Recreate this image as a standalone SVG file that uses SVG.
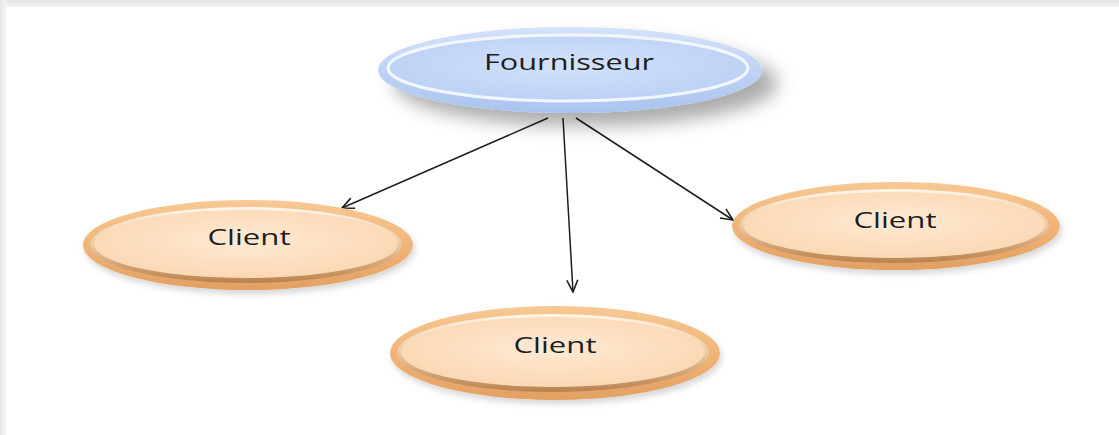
<svg xmlns="http://www.w3.org/2000/svg" width="1119" height="435" viewBox="0 0 1119 435">
<style>
.lbl{font-family:"Open Sans","Liberation Sans",sans-serif;font-size:22px;fill:#1e1e1e;text-anchor:middle}
.conn{stroke:#1e1e1e;stroke-width:1.5;fill:none}
</style>
<defs>
<marker id="arr" viewBox="0 0 14 14" refX="13" refY="7" markerWidth="14" markerHeight="14" markerUnits="userSpaceOnUse" orient="auto">
<path d="M1,1.5 L13,7 L1,12.5" fill="none" stroke="#1e1e1e" stroke-width="1.6"/>
</marker>
<linearGradient id="topEdge" x1="0" y1="0" x2="0" y2="1"><stop offset="0" stop-color="#e6e6e6"/><stop offset="1" stop-color="#f2f2f2"/></linearGradient>
<linearGradient id="leftEdge" x1="0" y1="0" x2="1" y2="0"><stop offset="0" stop-color="#e6e6e6"/><stop offset="1" stop-color="#f4f4f4"/></linearGradient>
<radialGradient id="blueFill" cx="0.5" cy="0.45" r="0.55"><stop offset="0" stop-color="#d3e2fb"/><stop offset="1" stop-color="#bcd1f5"/></radialGradient>
<linearGradient id="blueRim" x1="0" y1="0" x2="0" y2="1"><stop offset="0" stop-color="#d4e2fa"/><stop offset="1" stop-color="#aac4ef"/></linearGradient>
<linearGradient id="orRim" x1="0" y1="0" x2="0" y2="1"><stop offset="0" stop-color="#f7c994"/><stop offset="0.6" stop-color="#efb072"/><stop offset="1" stop-color="#e2a063"/></linearGradient>
<radialGradient id="orFill" cx="0.5" cy="0.45" r="0.55"><stop offset="0" stop-color="#feead4"/><stop offset="1" stop-color="#fbd8b4"/></radialGradient>
<linearGradient id="orInner" x1="0" y1="0" x2="0" y2="1"><stop offset="0" stop-color="#fff6ea"/><stop offset="0.5" stop-color="#ecc8a2"/><stop offset="1" stop-color="#b8824f"/></linearGradient>
<filter id="shBig" x="-20%" y="-40%" width="150%" height="190%"><feDropShadow dx="16" dy="13" stdDeviation="9" flood-color="#000" flood-opacity="0.33"/></filter>
<filter id="shSmall" x="-10%" y="-20%" width="130%" height="150%"><feDropShadow dx="2" dy="4" stdDeviation="3" flood-color="#000" flood-opacity="0.16"/></filter>
</defs>
<rect x="0" y="0" width="1119" height="435" fill="#fff"/>
<rect x="0" y="0" width="1119" height="7" fill="url(#topEdge)"/>
<rect x="0" y="0" width="6" height="435" fill="url(#leftEdge)"/>

<g id="connectors">
<line class="conn" x1="548" y1="118" x2="342" y2="208" marker-end="url(#arr)"/>
<line class="conn" x1="563" y1="118" x2="573" y2="292" marker-end="url(#arr)"/>
<line class="conn" x1="576" y1="118" x2="733" y2="220" marker-end="url(#arr)"/>
</g>

<g id="fournisseur">
<ellipse cx="570" cy="70" rx="192" ry="43" fill="url(#blueRim)" filter="url(#shBig)"/>
<ellipse cx="568" cy="68" rx="180" ry="33" fill="url(#blueFill)" stroke="#f2f7ff" stroke-width="3"/>
<text class="lbl" x="569" y="70" textLength="170" lengthAdjust="spacingAndGlyphs">Fournisseur</text>
</g>

<g id="client-left">
<ellipse cx="248" cy="245" rx="165" ry="45" fill="url(#orRim)" filter="url(#shSmall)"/>
<ellipse cx="246" cy="245" rx="156" ry="38" fill="url(#orInner)"/>
<ellipse cx="246" cy="244" rx="152" ry="34" fill="url(#orFill)"/>
<text class="lbl" x="249" y="245" textLength="83" lengthAdjust="spacingAndGlyphs">Client</text>
</g>

<g id="client-bottom">
<ellipse cx="555" cy="353" rx="165" ry="47" fill="url(#orRim)" filter="url(#shSmall)"/>
<ellipse cx="553" cy="353" rx="156" ry="39" fill="url(#orInner)"/>
<ellipse cx="553" cy="352" rx="152" ry="35" fill="url(#orFill)"/>
<text class="lbl" x="555" y="353" textLength="83" lengthAdjust="spacingAndGlyphs">Client</text>
</g>

<g id="client-right">
<ellipse cx="896" cy="226" rx="164" ry="44" fill="url(#orRim)" filter="url(#shSmall)"/>
<ellipse cx="894" cy="226" rx="155" ry="37" fill="url(#orInner)"/>
<ellipse cx="894" cy="225" rx="151" ry="33" fill="url(#orFill)"/>
<text class="lbl" x="895" y="228" textLength="83" lengthAdjust="spacingAndGlyphs">Client</text>
</g>
</svg>
